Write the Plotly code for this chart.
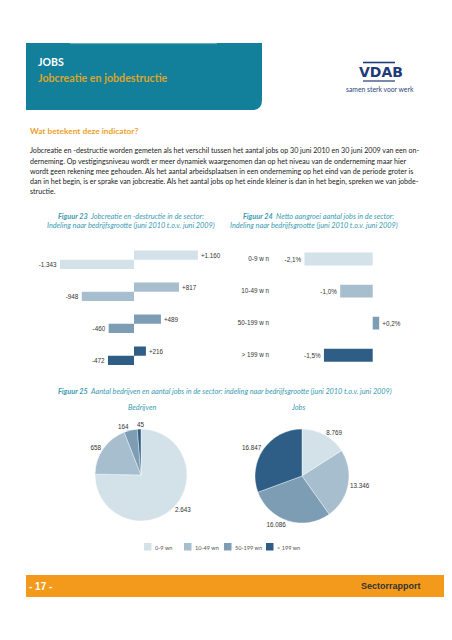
import plotly.graph_objects as go

W, H = 452, 640
OFF = 8  # browser body margin

# ---------------- data ----------------
size_classes = ["0-9 wn", "10-49 wn", "50-199 wn", "> 199 wn"]
size_ticks = ["0-9 w n", "10-49 w n", "50-199 w n", "> 199 w n"]
job_creation = [1160, 817, 489, 216]
job_destruction = [-1343, -948, -460, -472]
net_growth_pct = [-2.1, -1.0, 0.2, -1.5]
companies = [2643, 658, 164, 45]
jobs = [8769, 13346, 16086, 16847]

paragraph_lines = [
    "Jobcreatie en -destructie worden gemeten als het verschil tussen het aantal jobs op 30 juni 2010 en 30 juni 2009 van een on-",
    "derneming. Op vestigingsniveau wordt er meer dynamiek waargenomen dan op het niveau van de onderneming maar hier",
    "wordt geen rekening mee gehouden. Als het aantal arbeidsplaatsen in een onderneming op het eind van de periode groter is",
    "dan in het begin, is er sprake van jobcreatie. Als het aantal jobs op het einde kleiner is dan in het begin, spreken we van jobde-",
    "structie.",
]

# ---------------- styles ----------------
class_colors = ["#D3E2E9", "#A6BECD", "#7D9DB5", "#2E5E86"]
TEAL = "#13809B"
CAP = "#3A9AB3"
TXT = "#222222"
BODY = "Lato"
ARIAL = "Liberation Sans"


def nl_int(v, plus=False):
    s = f"{v:+,}" if plus else f"{v:,}"
    return s.replace(",", ".")


def nl_pct(v):
    return f"{v:+.1f}%".replace(".", ",")


def X(px):
    return (px - OFF) / W


def Y(py):
    return 1 - (py - OFF) / H


fig = go.Figure()

bar_font = dict(family=ARIAL, size=6.3, color="#333")

# Figure 23: job creation / destruction
fig.add_trace(go.Bar(
    y=size_ticks, x=job_creation, orientation="h",
    marker=dict(color=class_colors, line=dict(width=0)),
    width=0.29, offset=-0.29,
    text=[nl_int(v, True) for v in job_creation], texttemplate="%{text}",
    textposition="outside", constraintext="none",
    textfont=bar_font, cliponaxis=False,
    xaxis="x", yaxis="y", showlegend=False, hoverinfo="skip"))
fig.add_trace(go.Bar(
    y=size_ticks, x=job_destruction, orientation="h",
    marker=dict(color=class_colors, line=dict(width=0)),
    width=0.29, offset=0.0,
    text=[nl_int(v) for v in job_destruction], texttemplate="%{text}",
    textposition="outside", constraintext="none",
    textfont=bar_font, cliponaxis=False,
    xaxis="x", yaxis="y", showlegend=False, hoverinfo="skip"))

# Figure 24: net growth
fig.add_trace(go.Bar(
    y=size_ticks, x=net_growth_pct, orientation="h",
    marker=dict(color=class_colors, line=dict(width=0)),
    width=0.4,
    text=[nl_pct(v) for v in net_growth_pct], texttemplate="%{text}",
    textposition="outside", constraintext="none",
    textfont=bar_font, cliponaxis=False,
    xaxis="x2", yaxis="y2", showlegend=False, hoverinfo="skip"))

# Figure 25: pies
fig.add_trace(go.Pie(
    values=companies, labels=size_classes, sort=False, direction="clockwise",
    rotation=0, marker=dict(colors=class_colors, line=dict(width=0.4, color="white")),
    textposition=["outside", "outside", "outside", "none"], texttemplate="%{value:,}",
    outsidetextfont=dict(family=ARIAL, size=6.3, color="#333"),
    domain=dict(x=[X(95), X(187)], y=[Y(521), Y(429)]),
    showlegend=False, hoverinfo="skip"))
fig.add_trace(go.Pie(
    values=jobs, labels=size_classes, sort=False, direction="clockwise",
    rotation=0, marker=dict(colors=class_colors, line=dict(width=0.4, color="white")),
    textposition="outside", texttemplate="%{value:,}",
    outsidetextfont=dict(family=ARIAL, size=6.3, color="#333"),
    domain=dict(x=[X(255), X(349)], y=[Y(523), Y(429)]),
    showlegend=False, hoverinfo="skip"))

ax_common = dict(showgrid=False, zeroline=False, showline=False, ticks="",
                 fixedrange=True)

shapes = []
annotations = []


def txt(x, y, s, size, color=TXT, family=BODY, xanchor="left"):
    annotations.append(dict(
        x=X(x), y=Y(y), xref="paper", yref="paper", text=s, showarrow=False,
        xanchor=xanchor, yanchor="middle", align=xanchor if xanchor != "center" else "center",
        font=dict(size=size, color=color, family=family)))


# header box with rounded bottom-right corner
hx0, hx1, hy0, hy1, rr = 26, 262, 43, 110, 10
shapes.append(dict(
    type="path", xref="paper", yref="paper",
    path=(f"M {X(hx0)},{Y(hy0)} L {X(hx1)},{Y(hy0)} L {X(hx1)},{Y(hy1 - rr)} "
          f"Q {X(hx1)},{Y(hy1)} {X(hx1 - rr)},{Y(hy1)} L {X(hx0)},{Y(hy1)} Z"),
    fillcolor=TEAL, line=dict(width=0), layer="below"))
shapes.append(dict(type="line", xref="paper", yref="paper",
                   x0=X(70), x1=X(217), y0=Y(43.6), y1=Y(43.6),
                   line=dict(color="#6DB3C6", width=1)))
txt(36, 62, "<b>JOBS</b>", 10.5, "white")
txt(36, 77.5, "<b>Jobcreatie en jobdestructie</b>", 10.7, "#D9A52B")

# VDAB logo
shapes.append(dict(type="line", xref="paper", yref="paper", x0=X(363), x1=X(395),
                   y0=Y(62.5), y1=Y(62.5), line=dict(color="#1F3A78", width=1.6)))
shapes.append(dict(type="line", xref="paper", yref="paper", x0=X(363), x1=X(395),
                   y0=Y(81), y1=Y(81), line=dict(color="#1F3A78", width=1.2)))
txt(380.5, 72, "<b>VDAB</b>", 14, "#1F3A78", "DejaVu Sans", "center")
txt(380, 89.5, "samen sterk voor werk", 6.8, "#2E4680", BODY, "center")

# indicator heading + paragraph
txt(28, 131, "<b>Wat betekent deze indicator?</b>", 8.3, "#EE9F2C")
for i, line in enumerate(paragraph_lines):
    txt(28, 151 + 10.2 * i, line, 7.1, TXT)

# captions
CS = 7.3
txt(131, 216.5, "<b><i>Figuur 23</i></b><i>  Jobcreatie en -destructie in de sector:</i>", CS, CAP, BODY, "center")
txt(131, 225.5, "<i>Indeling naar bedrijfsgrootte (juni 2010 t.o.v. juni 2009)</i>", CS, CAP, BODY, "center")
txt(318, 216.5, "<b><i>Figuur 24</i></b><i>  Netto aangroei aantal jobs in de sector:</i>", CS, CAP, BODY, "center")
txt(314, 225.5, "<i>Indeling naar bedrijfsgrootte (juni 2010 t.o.v. juni 2009)</i>", CS, CAP, BODY, "center")
txt(225, 391, "<b><i>Figuur 25</i></b><i>  Aantal bedrijven en aantal jobs in de sector: indeling naar bedrijfsgrootte (juni 2010 t.o.v. juni 2009)</i>", CS, CAP, BODY, "center")
txt(142, 407.5, "<i>Bedrijven</i>", CS, CAP, BODY, "center")
txt(298, 407.5, "<i>Jobs</i>", CS, CAP, BODY, "center")

# label of the thin top slice of the first pie
txt(141, 424, nl_int(companies[3]), 6.3, "#333", ARIAL, "center")

# legend for pies (swatches from category colors)
leg_x = [144, 184, 224, 266]
for lx, lab, col in zip(leg_x, size_classes, class_colors):
    shapes.append(dict(type="rect", xref="paper", yref="paper",
                       x0=X(lx), x1=X(lx + 7.5), y0=Y(550.5), y1=Y(543),
                       fillcolor=col, line=dict(width=0)))
    txt(lx + 9, 547, lab, 5.6, "#555", BODY)

# footer
shapes.append(dict(type="rect", xref="paper", yref="paper",
                   x0=X(26), x1=X(460), y0=Y(597), y1=Y(575),
                   fillcolor="#F39A1C", line=dict(width=0), layer="below"))
txt(27, 586, "<b>- 17 -</b>", 10, "white", ARIAL)
txt(423, 586, "<b>Sectorrapport</b>", 9, "#333", ARIAL, "right")

# axes geometry (page pixels)
z23, s23 = 134, 74 / 1343  # zero px, px per unit
d23 = (30, 230)
z24, s24 = 372.7, 32.5
d24 = (270, 420)


def xr(d, z, s):
    return [(d[0] - z) / s, (d[1] - z) / s]


fig.update_layout(
    width=W, height=H, margin=dict(l=0, r=0, t=0, b=0),
    paper_bgcolor="white", plot_bgcolor="white",
    separators=",.", barmode="overlay",
    xaxis=dict(domain=[X(d23[0]), X(d23[1])], range=xr(d23, z23, s23),
               showticklabels=False, anchor="y", **ax_common),
    yaxis=dict(domain=[Y(371.7), Y(243.7)], range=[3.5, -0.5], type="category",
               showticklabels=False, anchor="x", **ax_common),
    xaxis2=dict(domain=[X(d24[0]), X(d24[1])], range=xr(d24, z24, s24),
                showticklabels=False, anchor="y2", **ax_common),
    yaxis2=dict(domain=[Y(371.3), Y(243)], range=[3.5, -0.5], type="category",
                showticklabels=True, anchor="x2",
                tickfont=dict(family=ARIAL, size=6.3, color="#333"), **ax_common),
    shapes=shapes, annotations=annotations,
)

fig.write_html("out.html")
